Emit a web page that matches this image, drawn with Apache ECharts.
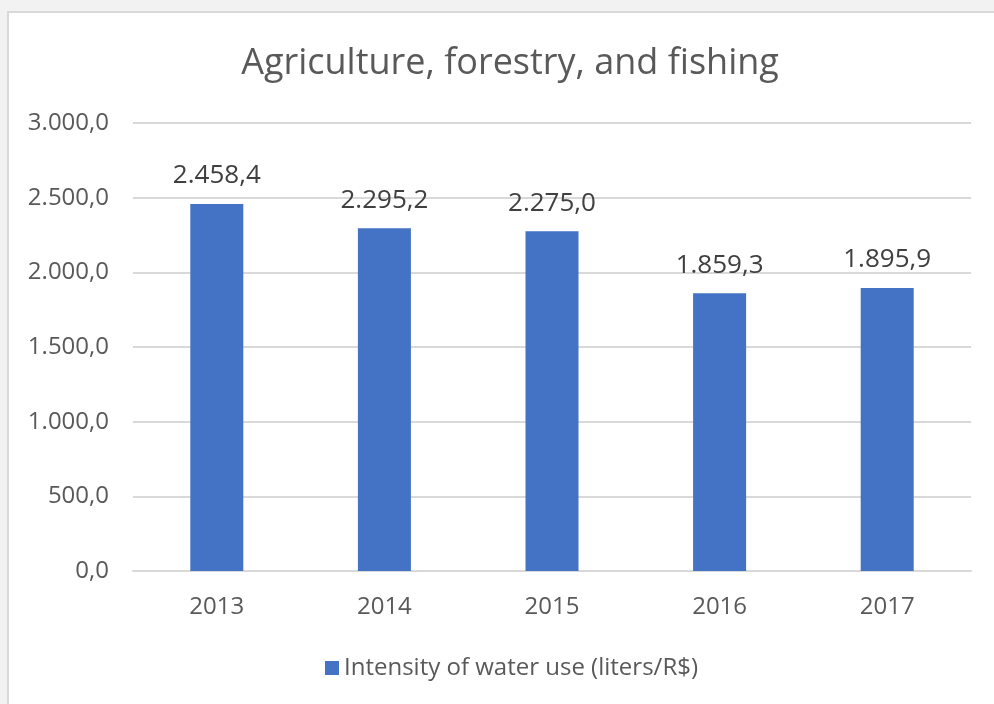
<!DOCTYPE html>
<html>
<head>
<meta charset="utf-8">
<script src="https://cdn.jsdelivr.net/npm/echarts@6/dist/echarts.min.js"></script>
<style>
  html, body { margin: 0; padding: 0; width: 994px; height: 704px; overflow: hidden; background: #f2f2f2; }
  #frame { position: absolute; left: 7px; top: 11px; width: 1000px; height: 710px; background: #fff; border: 2px solid #d9d9d9; box-sizing: border-box; }
  #chart { position: absolute; left: 0; top: 0; width: 994px; height: 704px; }
</style>
</head>
<body>
<div id="frame"></div>
<div id="chart"></div>
<script>
const years = ['2013', '2014', '2015', '2016', '2017'];
const intensity = [2458.4, 2295.2, 2275.0, 1859.3, 1895.9];
const seriesName = 'Intensity of water use (liters/R$)';
const chartTitle = 'Agriculture, forestry, and fishing';

// Brazilian-style number format: 2.458,4
function fmt(v) {
  const parts = Number(v).toFixed(1).split('.');
  parts[0] = parts[0].replace(/\B(?=(\d{3})+(?!\d))/g, '.');
  return parts[0] + ',' + parts[1];
}

const FONT = '"Open Sans", "Noto Sans", sans-serif';
const chart = echarts.init(document.getElementById('chart'));
chart.setOption({
  backgroundColor: 'transparent',
  animation: false,
  textStyle: { fontFamily: FONT },
  title: {
    text: chartTitle,
    left: 505, top: 41, textAlign: 'center',
    textStyle: { fontSize: 36, fontWeight: 'normal', color: '#595959', fontFamily: FONT }
  },
  legend: {
    data: [seriesName],
    left: 320, top: 651,
    itemWidth: 14, itemHeight: 14, itemGap: 8,
    icon: 'rect',
    textStyle: { fontSize: 24, color: '#595959', fontFamily: FONT }
  },
  grid: { left: 133, right: 23, top: 123, bottom: 133, containLabel: false },
  xAxis: {
    type: 'category',
    data: years,
    axisLine: { lineStyle: { color: '#d9d9d9', width: 2 } },
    axisTick: { show: false },
    axisLabel: { color: '#595959', fontSize: 24, margin: 24, fontFamily: FONT }
  },
  yAxis: {
    type: 'value',
    min: 0, max: 3000, interval: 500,
    axisLine: { show: false },
    axisTick: { show: false },
    splitLine: { lineStyle: { color: '#d9d9d9', width: 2 } },
    axisLabel: { color: '#595959', fontSize: 24, margin: 24, fontFamily: FONT, formatter: fmt }
  },
  series: [{
    name: seriesName,
    type: 'bar',
    data: intensity,
    barWidth: 53,
    itemStyle: { color: '#4472c4' },
    label: {
      show: true, position: 'top', distance: 15,
      color: '#404040', fontSize: 26, fontFamily: FONT,
      formatter: p => fmt(p.value)
    }
  }]
});
</script>
</body>
</html>
